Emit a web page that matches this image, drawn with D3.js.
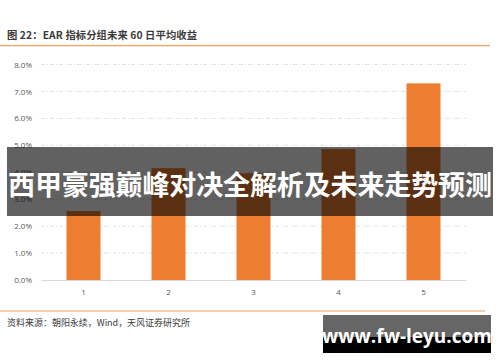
<!DOCTYPE html>
<html>
<head>
<meta charset="utf-8">
<script src="https://cdn.jsdelivr.net/npm/d3@7"></script>
<style>
  body { margin: 0; background: #fff; }
  svg { display: block; font-family: "Noto Sans CJK SC", "Noto Sans", sans-serif; }
</style>
</head>
<body>
<script>
// DATA
const groups = ["1", "2", "3", "4", "5"];
const avgReturn = [2.56, 4.15, 3.96, 4.86, 7.30];
const yTicks = [0, 1, 2, 3, 4, 5, 6, 7, 8];

const W = 500, H = 362;
const svg = d3.select("body").append("svg")
  .attr("width", W)
  .attr("height", H);

const xScale = d3.scaleBand().domain(groups).range([41, 466]).paddingInner(0.6).paddingOuter(0.3);
const yScale = d3.scaleLinear().domain([0, 8]).range([280, 64.5]);

// header
svg.append("text")
  .text("图 22：EAR 指标分组未来 60 日平均收益")
  .attr("x", 7).attr("y", 38.5)
  .attr("fill", "#3a3a3a")
  .attr("textLength", 190)
  .style("font-size", "10.3px")
  .style("font-weight", "bold");

svg.append("line")
  .attr("x1", 0).attr("x2", 490)
  .attr("y1", 45.7).attr("y2", 45.7)
  .attr("stroke", "#F0A060").attr("stroke-width", 1.2);

// grid
const yAxis = d3.axisLeft(yScale)
  .tickValues(yTicks)
  .tickSize(0)
  .tickPadding(9)
  .tickFormat(d => d.toFixed(1) + "%");

const gy = svg.append("g")
  .attr("transform", "translate(41,0)")
  .call(yAxis);
gy.select(".domain").remove();
gy.selectAll("text")
  .attr("fill", "#595959")
  .style("font-size", "8px")
  .style("font-family", "'Open Sans', 'Noto Sans', sans-serif");

svg.append("g")
  .selectAll("line")
  .data(yTicks.filter(d => d > 0))
  .enter()
  .append("line")
  .attr("x1", 41).attr("x2", 466)
  .attr("y1", d => yScale(d)).attr("y2", d => yScale(d))
  .attr("stroke", "#d9d9d9")
  .attr("stroke-width", 0.8)
  .attr("stroke-dasharray", "4,2,1,2");

// bars
svg.append("g")
  .selectAll("rect")
  .data(avgReturn)
  .enter()
  .append("rect")
  .attr("x", (d, i) => xScale(groups[i]))
  .attr("y", d => yScale(d))
  .attr("width", xScale.bandwidth())
  .attr("height", d => yScale(0) - yScale(d))
  .attr("fill", "#ED7D31");

// x axis
const xAxis = d3.axisBottom(xScale).tickSize(0).tickPadding(9);
const gx = svg.append("g")
  .attr("transform", `translate(0,${yScale(0)})`)
  .call(xAxis);
gx.select(".domain").attr("stroke", "#d9d9d9").attr("stroke-width", 1);
gx.selectAll("text")
  .attr("fill", "#595959")
  .style("font-size", "8px")
  .style("font-family", "'Open Sans', 'Noto Sans', sans-serif");

// footer
svg.append("line")
  .attr("x1", 0).attr("x2", 485)
  .attr("y1", 311).attr("y2", 311)
  .attr("stroke", "#F0A060").attr("stroke-width", 1.2);

svg.append("text")
  .text("资料来源：朝阳永续，Wind，天风证券研究所")
  .attr("x", 7).attr("y", 326)
  .attr("fill", "#3a3a3a")
  .attr("textLength", 183)
  .style("font-size", "9px");

// overlay banner
svg.append("rect")
  .attr("x", 7).attr("y", 147)
  .attr("width", 486).attr("height", 69)
  .attr("fill", "rgba(0,0,0,0.62)");

svg.append("text")
  .text("西甲豪强巅峰对决全解析及未来走势预测")
  .attr("x", 250).attr("y", 195)
  .attr("text-anchor", "middle")
  .attr("fill", "#fff")
  .attr("textLength", 484)
  .style("font-size", "27px")
  .style("font-weight", "bold");

// watermark
svg.append("rect")
  .attr("x", 323).attr("y", 315)
  .attr("width", 168).attr("height", 22)
  .attr("fill", "#666");
svg.append("rect")
  .attr("x", 323).attr("y", 337)
  .attr("width", 168).attr("height", 16)
  .attr("fill", "#000");
svg.append("text")
  .text("www.fw-leyu.com")
  .attr("x", 407).attr("y", 343)
  .attr("text-anchor", "middle")
  .attr("fill", "#fff")
  .style("font-size", "19px")
  .style("font-weight", "bold")
  .style("font-family", "'Open Sans', 'DejaVu Sans', sans-serif");
</script>
</body>
</html>
